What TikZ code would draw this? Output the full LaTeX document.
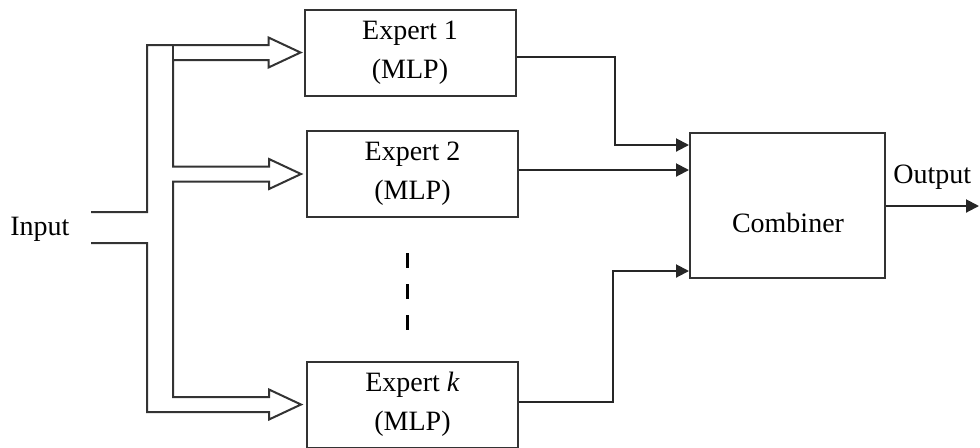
\documentclass[tikz,border=0pt]{standalone}
\usepackage{fontspec}
\setmainfont{Liberation Serif}
\usetikzlibrary{arrows.meta,calc}

\begin{document}
\begin{tikzpicture}[
  x=0.5pt, y=-0.5pt,
  every node/.style={font=\fontsize{14}{19.5}\selectfont, text=black},
  expert/.style={draw=black!80, line width=1pt, minimum width=105.5pt,
                 minimum height=43pt, inner sep=0pt, align=center},
  combbox/.style={draw=black!80, line width=1pt, minimum width=97.5pt,
                  minimum height=72.5pt, inner sep=0pt},
  bus/.style={draw=black!80, line width=1pt},
  conn/.style={draw=black!85, line width=1pt,
               -{Triangle[length=6.5pt,width=6.5pt]}},
  gap/.style={draw=black, line width=1.1pt, dash pattern=on 7.5pt off 8pt}
]
\useasboundingbox (0,0) rectangle (980,447);

% expert networks and the combiner
\node[expert] (e1) at (410,52.5) {Expert 1\\(MLP)};
\node[expert] (e2) at (412.5,174) {Expert 2\\(MLP)};
\node[expert] (ek) at (412.5,404.5) {Expert \textit{k}\\(MLP)};
\node[combbox] (comb) at (787.5,205.5) {};
\node[anchor=base] (combtxt) at (788,232) {Combiner};

% labels
\node[anchor=base west, inner sep=0pt] (inlbl) at (10,235) {Input};
\node[anchor=base west, inner sep=0pt] (outlbl) at (893,183) {Output};

% input bus with its hollow arrows
\coordinate (busL) at (147,0);
\coordinate (busR) at (173,0);
\coordinate (inU) at (91,212);
\coordinate (inD) at (91,243);
\coordinate (t1) at ([xshift=-1.5pt]e1.west);
\coordinate (t2) at ([xshift=-2.5pt]e2.west);
\coordinate (tk) at ([xshift=-2.5pt]ek.west);
\foreach \t in {t1,t2,tk}{
  \coordinate (\t u) at ($(\t)+(0,-7.5)$);
  \coordinate (\t d) at ($(\t)+(0,7.5)$);
}
\draw[bus]
  (inU) -- (inU -| busL) -- (t1u -| busL)
  -- ($(t1u)+(-32,0)$) -- ($(t1)+(-32,-15)$) -- (t1) -- ($(t1)+(-32,15)$)
  -- ($(t1d)+(-32,0)$) -- (t1d -| busR)
  -- (t2u -| busR)
  -- ($(t2u)+(-32,0)$) -- ($(t2)+(-32,-15)$) -- (t2) -- ($(t2)+(-32,15)$)
  -- ($(t2d)+(-32,0)$) -- (t2d -| busR)
  -- (tku -| busR)
  -- ($(tku)+(-32,0)$) -- ($(tk)+(-32,-15)$) -- (tk) -- ($(tk)+(-32,15)$)
  -- ($(tkd)+(-32,0)$) -- (tkd -| busL)
  -- (inD -| busL) -- (inD);
\draw[bus] (t1u -| busR) -- (t1d -| busR);

% experts not shown
\draw[gap] ($(e2.south)+(-5,35)$) -- ($(ek.north)+(-5,-30)$);

% expert outputs into the combiner
\coordinate (o1) at ([yshift=-2.25pt]e1.east);
\coordinate (o2) at ([yshift=2pt]e2.east);
\coordinate (ok) at ([yshift=1.25pt]ek.east);
\coordinate (j1) at (615,145);
\coordinate (jk) at (613,271);
\draw[conn] (o1) -| (j1) -- (j1 -| comb.west);
\draw[conn] (o2) -- (o2 -| comb.west);
\draw[conn] (ok) -| (jk) -- (jk -| comb.west);

% combined output
\coordinate (out) at (979,206);
\draw[conn] (out -| comb.east) -- (out);
\end{tikzpicture}
\end{document}
